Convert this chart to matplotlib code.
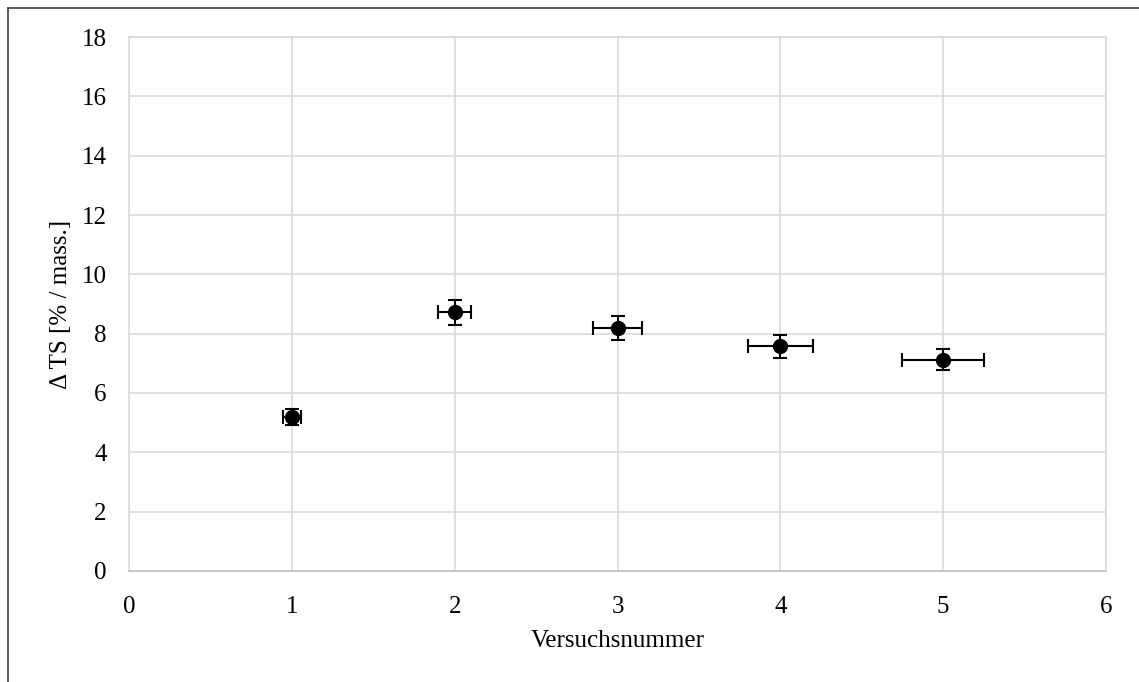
import matplotlib
matplotlib.use("Agg")
import matplotlib.pyplot as plt
from matplotlib.lines import Line2D

plt.rcParams["font.family"] = ["Liberation Serif", "DejaVu Serif"]

# data
versuch = [1, 2, 3, 4, 5]
delta_ts = [5.18, 8.72, 8.20, 7.57, 7.12]
y_err = [0.27, 0.43, 0.41, 0.38, 0.36]
x_err = [0.055, 0.10, 0.15, 0.20, 0.25]

fig = plt.figure(figsize=(11.39, 6.82), dpi=100)
ax = fig.add_axes([0.1133, 0.1628, 0.8577, 0.7829])

ax.errorbar(versuch, delta_ts, xerr=x_err, yerr=y_err, fmt="o", color="black",
            markersize=10, elinewidth=1.5, capsize=5, capthick=1.5, zorder=3)

ax.set_xlim(0, 6)
ax.set_ylim(0, 18)
ax.set_xticks(range(0, 7))
ax.set_yticks(range(0, 19, 2))
ax.grid(True, color="#d9d9d9", linewidth=1.2)
ax.set_axisbelow(True)
for s in ax.spines.values():
    s.set_color("#d9d9d9")
    s.set_linewidth(1.2)
ax.spines["bottom"].set_color("#bfbfbf")
ax.tick_params(length=0, labelsize=18)
ax.tick_params(axis="x", pad=18)
ax.tick_params(axis="y", pad=16)

ax.set_xlabel("Versuchsnummer", fontsize=18, labelpad=9)
ax.set_ylabel("Δ TS [% / mass.]", fontsize=18, labelpad=7)

# figure frame (left and top edges visible)
fig.add_artist(Line2D([8 / 1139, 8 / 1139], [0, 1 - 8 / 682], transform=fig.transFigure,
                      color="#404040", linewidth=1.2))
fig.add_artist(Line2D([8 / 1139, 1], [1 - 8 / 682, 1 - 8 / 682], transform=fig.transFigure,
                      color="#404040", linewidth=1.2))

fig.savefig("out.png", dpi=100)
